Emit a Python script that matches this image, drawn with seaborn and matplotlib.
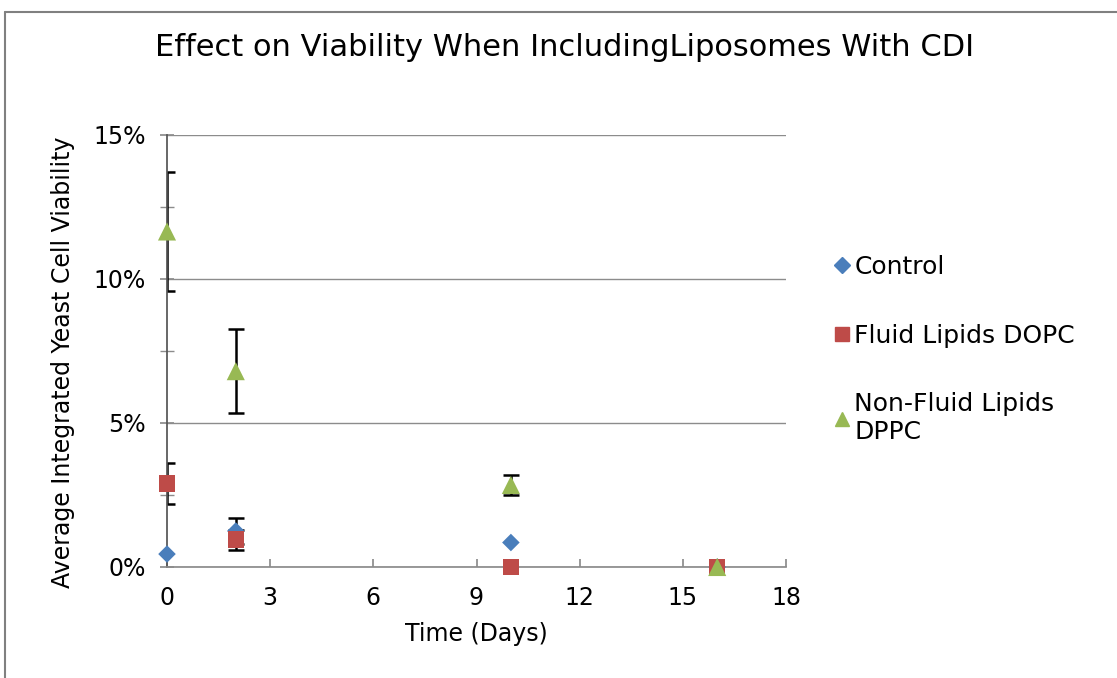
import matplotlib
matplotlib.use("Agg")
import matplotlib.pyplot as plt
import seaborn as sns
import pandas as pd
import numpy as np
from matplotlib.lines import Line2D
from matplotlib.ticker import FuncFormatter, MultipleLocator

sns.set_theme(style="white")
plt.rcParams['font.family'] = ['DejaVu Sans']
plt.rcParams['text.color'] = 'black'
plt.rcParams['axes.labelcolor'] = 'black'
plt.rcParams['xtick.labelcolor'] = 'black'
plt.rcParams['ytick.labelcolor'] = 'black'

days = [0, 2, 10, 16]
series = ["Control", "Fluid Lipids DOPC", "Non-Fluid Lipids\nDPPC"]
control = [0.45, 1.25, 0.85, 0.0]
control_err = [0.0, 0.45, 0.0, 0.0]
dopc = [2.9, 0.95, 0.0, 0.0]
dopc_err = [0.72, 0.35, 0.0, 0.0]
dppc = [11.65, 6.8, 2.85, 0.0]
dppc_err = [2.05, 1.47, 0.35, 0.0]

colors = ["#4A7EBB", "#BE4B48", "#98B954"]
markers = ["D", "s", "^"]
sizes = [80, 140, 170]

fig = plt.figure(figsize=(11.17, 6.78), dpi=100)
ax = fig.add_axes([167/1117, 1-567/678, (786-167)/1117, (567-135)/678])

vals = [control, dopc, dppc]
errs = [control_err, dopc_err, dppc_err]
for v, e in zip(vals, errs):
    ve = [(d, y, er) for d, y, er in zip(days, v, e) if er > 0]
    ax.errorbar([a[0] for a in ve], [a[1] for a in ve], yerr=[a[2] for a in ve],
                fmt="none", ecolor="black", elinewidth=1.8, capsize=6, capthick=1.8, zorder=2)
for name, v, c, m, s in zip(series, vals, colors, markers, sizes):
    df = pd.DataFrame({"Day": days, "Viability": v})
    sns.scatterplot(data=df, x="Day", y="Viability", ax=ax, color=c, marker=m,
                    s=s, edgecolor="none", label=name, zorder=3, clip_on=False)

ax.set_xlim(0, 18)
ax.set_ylim(0, 15)
ax.xaxis.set_major_locator(MultipleLocator(3))
ax.yaxis.set_major_locator(MultipleLocator(5))
ax.yaxis.set_minor_locator(MultipleLocator(2.5))
ax.yaxis.set_major_formatter(FuncFormatter(lambda y, p: f"{y:.0f}%"))
ax.grid(axis="y", which="major", color="#8c8c8c", linewidth=1)
ax.grid(axis="x", visible=False)
ax.set_axisbelow(True)
for sp in ["top", "right"]:
    ax.spines[sp].set_visible(False)
ax.spines["left"].set_color("#555555")
ax.spines["bottom"].set_color("#8c8c8c")
ax.tick_params(axis="y", which="both", left=True, direction="inout", length=10, color="#8c8c8c",
               labelsize=17, pad=10, labelcolor="black")
ax.tick_params(axis="x", bottom=True, direction="in", length=6, color="#8c8c8c", labelsize=17,
               pad=14, labelcolor="black")
ax.set_xlabel("Time (Days)", fontsize=17, labelpad=8, color="black")
ax.set_ylabel("Average Integrated Yeast Cell Viability", fontsize=17, labelpad=12, color="black")
ax.yaxis.set_label_coords(-0.149, 0.475)

ax.get_legend().remove()
handles = [Line2D([], [], linestyle="none", marker=m, color=c, markersize=ms)
           for m, c, ms in zip(markers, colors, [8, 10, 10])]
leg = fig.legend(handles, series, loc="upper left", bbox_to_anchor=(822/1117, 1-242/678),
                 frameon=False, fontsize=18, handlelength=0.6, handletextpad=0.2,
                 labelspacing=1.8, borderpad=0)
for t in leg.get_texts():
    t.set_color("black")

fig.suptitle("Effect on Viability When IncludingLiposomes With CDI", x=565/1117, y=1-48/678,
             va="center", fontsize=22, color="black")

fig.add_artist(Line2D([5/1117, 5/1117], [0, 1-12/678], color="#808080", lw=1.5))
fig.add_artist(Line2D([5/1117, 1], [1-12/678, 1-12/678], color="#808080", lw=1.5))

fig.savefig("out.png", dpi=100)
